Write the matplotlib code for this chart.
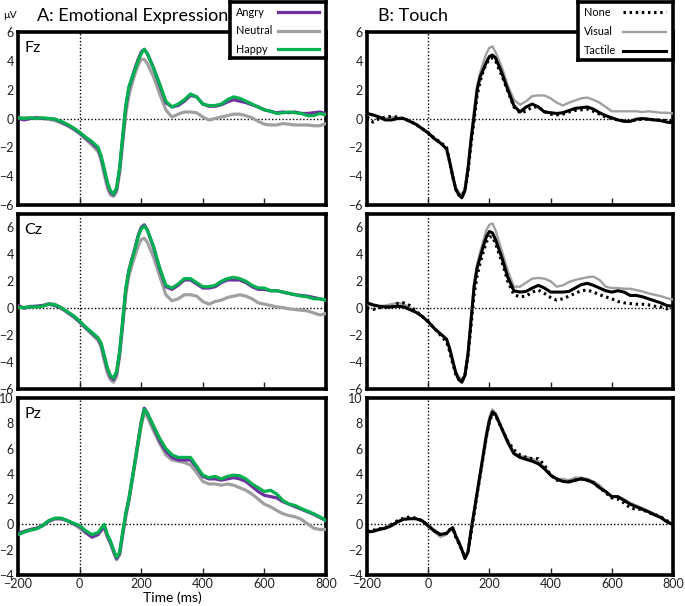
import matplotlib
matplotlib.use('Agg')
import matplotlib.pyplot as plt

plt.rcParams['font.family'] = ['Lato', 'DejaVu Sans']

# time axis (ms): 20 ms steps, 10 ms steps around the N1/P2 complex
time_ms = list(range(-200, 61, 20)) + list(range(70, 221, 10)) + list(range(240, 801, 20))

#### A: Emotional Expression
fz_angry = ([0.0, -0.1, 0.0, 0.05, 0.0, 0.0, -0.05, -0.25, -0.45, -0.7, -1.0, -1.35, -1.7, -2.1]
            + [-2.7, -3.6, -4.5, -5.1, -5.3, -4.9, -3.5, -1.3, 0.8, 2.1, 2.8, 3.5, 4.1, 4.6, 4.8, 4.5]
            + [3.5, 2.3, 1.1, 0.8, 0.9, 1.2, 1.6, 1.5, 1.0, 0.85, 0.85, 0.95, 1.15, 1.3, 1.2, 1.1, 0.95, 0.8,
               0.6, 0.5, 0.4, 0.45, 0.4, 0.45, 0.35, 0.35, 0.4, 0.45, 0.35])
fz_neutral = ([0.05, 0.05, 0.0, 0.05, 0.0, -0.05, -0.15, -0.3, -0.5, -0.75, -1.05, -1.45, -1.85, -2.3]
              + [-2.9, -3.9, -4.8, -5.3, -5.4, -5.1, -3.8, -1.7, 0.3, 1.6, 2.4, 3.1, 3.7, 4.1, 4.1, 3.8]
              + [2.9, 1.7, 0.6, 0.1, 0.3, 0.45, 0.45, 0.4, 0.1, -0.1, 0.0, 0.1, 0.2, 0.3, 0.3, 0.2, 0.05, -0.2,
                 -0.4, -0.45, -0.45, -0.35, -0.4, -0.45, -0.45, -0.45, -0.5, -0.5, -0.35])
fz_happy = ([0.05, 0.0, 0.05, 0.0, 0.05, 0.0, -0.05, -0.2, -0.4, -0.65, -0.95, -1.3, -1.6, -2.0]
            + [-2.6, -3.5, -4.4, -5.0, -5.25, -4.8, -3.4, -1.2, 0.9, 2.2, 2.8, 3.4, 4.0, 4.5, 4.8, 4.5]
            + [3.5, 2.4, 1.2, 0.8, 1.0, 1.3, 1.7, 1.5, 1.0, 0.9, 0.9, 1.0, 1.3, 1.5, 1.4, 1.2, 1.0, 0.8,
               0.6, 0.5, 0.35, 0.4, 0.45, 0.4, 0.35, 0.2, 0.2, 0.35, 0.25])

cz_angry = ([0.2, 0.0, 0.1, 0.15, 0.2, 0.3, 0.2, 0.0, -0.3, -0.6, -1.0, -1.45, -1.85, -2.25]
            + [-2.7, -3.6, -4.5, -5.1, -5.3, -4.8, -3.3, -1.0, 1.4, 2.8, 3.7, 4.5, 5.4, 6.0, 6.2, 5.8]
            + [4.5, 2.9, 1.6, 1.4, 1.7, 2.1, 2.1, 1.8, 1.5, 1.5, 1.6, 1.9, 2.1, 2.1, 2.1, 1.9, 1.6, 1.4,
               1.4, 1.3, 1.3, 1.2, 1.1, 1.0, 0.95, 0.9, 0.8, 0.7, 0.6])
cz_neutral = ([0.05, 0.05, 0.15, 0.15, 0.2, 0.35, 0.3, 0.05, -0.3, -0.65, -1.05, -1.5, -1.95, -2.4]
              + [-2.9, -3.9, -4.8, -5.3, -5.5, -5.1, -3.6, -1.3, 1.0, 2.4, 3.2, 3.9, 4.6, 5.1, 5.2, 4.9]
              + [3.8, 2.4, 1.0, 0.55, 0.7, 1.0, 1.0, 0.9, 0.5, 0.3, 0.5, 0.6, 0.8, 0.9, 1.0, 0.9, 0.7, 0.4,
                 0.3, 0.2, 0.1, 0.05, -0.05, -0.1, -0.15, -0.2, -0.35, -0.5, -0.4])
cz_happy = ([0.05, 0.05, 0.1, 0.1, 0.15, 0.3, 0.25, 0.05, -0.25, -0.55, -0.95, -1.4, -1.8, -2.2]
            + [-2.6, -3.5, -4.4, -5.0, -5.2, -4.7, -3.2, -0.9, 1.5, 2.8, 3.6, 4.4, 5.3, 5.9, 6.1, 5.8]
            + [4.6, 3.0, 1.7, 1.5, 1.8, 2.2, 2.2, 1.9, 1.6, 1.6, 1.7, 2.0, 2.2, 2.3, 2.2, 2.0, 1.7, 1.5,
               1.5, 1.3, 1.3, 1.2, 1.1, 1.0, 0.9, 0.85, 0.7, 0.7, 0.6])

pz_angry = ([-0.7, -0.55, -0.4, -0.3, -0.1, 0.25, 0.45, 0.45, 0.3, 0.05, -0.15, -0.6, -1.0, -0.8]
            + [-0.45, -0.15, -0.9, -1.4, -2.1, -2.7, -2.3, -0.7, 0.8, 2.0, 3.5, 5.0, 6.6, 8.1, 9.2, 8.8]
            + [7.7, 6.6, 5.8, 5.3, 5.1, 5.1, 5.1, 4.5, 3.8, 3.6, 3.6, 3.5, 3.6, 3.7, 3.6, 3.4, 3.0, 2.6,
               2.3, 2.2, 2.1, 1.8, 1.6, 1.4, 1.2, 1.0, 0.8, 0.55, 0.3])
pz_neutral = ([-0.8, -0.6, -0.45, -0.3, -0.05, 0.3, 0.45, 0.45, 0.3, 0.05, -0.3, -0.7, -1.0, -0.8]
              + [-0.5, -0.3, -1.0, -1.5, -2.2, -2.8, -2.4, -0.9, 0.6, 1.8, 3.3, 4.8, 6.3, 7.8, 8.8, 8.5]
              + [7.4, 6.4, 5.5, 5.1, 5.0, 4.9, 4.7, 4.1, 3.4, 3.2, 3.2, 3.1, 3.2, 3.1, 2.9, 2.7, 2.4, 2.0,
                 1.6, 1.4, 1.1, 0.85, 0.7, 0.6, 0.4, 0.05, -0.3, -0.4, -0.4])
pz_happy = ([-0.8, -0.6, -0.45, -0.35, -0.1, 0.3, 0.5, 0.5, 0.3, 0.1, -0.1, -0.5, -0.8, -0.65]
            + [-0.3, 0.0, -0.8, -1.3, -2.0, -2.6, -2.2, -0.6, 0.9, 2.0, 3.5, 5.0, 6.5, 8.0, 9.1, 8.8]
            + [7.8, 6.8, 6.0, 5.5, 5.3, 5.3, 5.3, 4.6, 3.9, 3.7, 3.8, 3.6, 3.8, 3.9, 3.85, 3.6, 3.2, 2.9,
               2.6, 2.7, 2.4, 1.9, 1.6, 1.5, 1.25, 1.05, 0.85, 0.6, 0.3])

#### B: Touch
fz_none = ([0.1, -0.25, 0.0, 0.1, 0.15, 0.1, 0.0, -0.2, -0.4, -0.7, -1.0, -1.35, -1.65, -2.0]
           + [-3.0, -4.0, -4.9, -5.3, -5.4, -5.0, -3.7, -1.8, -0.1, 1.6, 2.6, 3.3, 3.8, 4.1, 4.2, 4.0]
           + [3.0, 1.9, 0.8, 0.4, 0.5, 0.8, 0.8, 0.5, 0.3, 0.25, 0.3, 0.45, 0.55, 0.6, 0.65, 0.5, 0.3, 0.1,
              0.0, -0.1, -0.15, -0.2, -0.1, -0.05, -0.05, -0.1, -0.1, -0.15, -0.2])
fz_visual = ([0.3, 0.2, 0.1, 0.0, 0.1, 0.05, 0.0, -0.2, -0.4, -0.7, -1.0, -1.4, -1.7, -2.1]
             + [-2.9, -3.9, -4.8, -5.1, -5.3, -4.8, -3.3, -1.2, 0.6, 2.3, 3.2, 3.9, 4.5, 4.9, 5.0, 4.6]
             + [3.6, 2.3, 1.3, 0.95, 1.2, 1.55, 1.6, 1.6, 1.4, 1.1, 0.9, 1.1, 1.25, 1.4, 1.45, 1.3, 1.1, 0.8,
                0.5, 0.5, 0.5, 0.5, 0.5, 0.45, 0.5, 0.45, 0.4, 0.4, 0.35])
fz_tactile = ([0.35, 0.25, 0.1, -0.1, -0.1, 0.0, 0.0, -0.2, -0.4, -0.7, -1.0, -1.4, -1.7, -2.1]
              + [-3.0, -4.0, -4.9, -5.3, -5.5, -5.0, -3.5, -1.5, 0.2, 2.0, 2.9, 3.4, 3.9, 4.3, 4.4, 4.2]
              + [3.2, 2.0, 0.9, 0.45, 0.8, 1.0, 0.8, 0.45, 0.4, 0.35, 0.4, 0.55, 0.7, 0.75, 0.8, 0.65, 0.4, 0.2,
                 0.05, -0.1, -0.2, -0.2, -0.05, 0.0, -0.05, -0.1, -0.15, -0.25, -0.3])

cz_none = ([0.0, -0.1, 0.05, 0.05, 0.1, 0.35, 0.4, 0.2, -0.2, -0.6, -1.0, -1.5, -2.0, -2.5]
           + [-3.2, -4.1, -4.9, -5.3, -5.4, -5.0, -3.6, -1.3, 1.0, 2.4, 3.4, 4.2, 4.9, 5.3, 5.3, 4.8]
           + [3.5, 2.0, 1.0, 0.85, 0.9, 1.2, 1.35, 1.1, 0.8, 0.6, 0.7, 0.9, 1.1, 1.3, 1.35, 1.2, 1.0, 0.85,
              0.7, 0.5, 0.4, 0.35, 0.3, 0.3, 0.25, 0.15, 0.1, -0.05, 0.2])
cz_visual = ([0.3, 0.2, 0.15, 0.2, 0.3, 0.4, 0.3, 0.05, -0.3, -0.6, -1.0, -1.5, -1.9, -2.3]
             + [-2.9, -3.8, -4.7, -5.1, -5.3, -4.9, -3.3, -0.7, 1.9, 3.3, 4.2, 5.0, 5.8, 6.2, 6.3, 5.8]
             + [4.3, 2.8, 1.6, 1.6, 1.9, 2.2, 2.25, 2.2, 2.0, 1.6, 1.7, 1.95, 2.1, 2.2, 2.3, 2.35, 2.1, 1.6,
                1.5, 1.5, 1.45, 1.45, 1.35, 1.25, 1.1, 1.0, 0.9, 0.75, 0.65])
cz_tactile = ([0.4, 0.25, 0.15, 0.1, 0.1, 0.15, 0.1, -0.1, -0.3, -0.6, -1.0, -1.5, -1.9, -2.3]
              + [-3.0, -3.9, -4.8, -5.3, -5.5, -5.0, -3.4, -0.9, 1.6, 3.0, 3.8, 4.6, 5.3, 5.7, 5.6, 5.1]
              + [3.8, 2.3, 1.3, 1.2, 1.25, 1.5, 1.7, 1.5, 1.2, 1.2, 1.2, 1.25, 1.5, 1.75, 1.85, 1.7, 1.5, 1.3,
                 1.2, 1.3, 1.2, 0.95, 0.95, 0.85, 0.7, 0.55, 0.4, 0.2, 0.15])

pz_none = ([-0.5, -0.45, -0.35, -0.25, 0.0, 0.3, 0.5, 0.6, 0.5, 0.3, -0.1, -0.5, -0.8, -0.7]
           + [-0.4, -0.3, -1.0, -1.5, -2.0, -2.6, -2.2, -0.7, 0.8, 2.4, 3.9, 5.4, 6.9, 8.1, 8.8, 8.6]
           + [7.6, 6.6, 5.9, 5.5, 5.3, 5.2, 5.2, 4.7, 3.9, 3.5, 3.4, 3.4, 3.5, 3.6, 3.5, 3.3, 2.9, 2.5,
              2.1, 2.0, 1.7, 1.3, 1.2, 1.2, 0.9, 0.8, 0.6, 0.3, 0.0])
pz_visual = ([-0.6, -0.5, -0.35, -0.25, -0.05, 0.25, 0.45, 0.5, 0.45, 0.25, -0.2, -0.6, -1.0, -0.8]
             + [-0.5, -0.35, -1.0, -1.5, -2.1, -2.6, -2.1, -0.4, 1.1, 2.7, 4.2, 5.7, 7.3, 8.5, 9.1, 8.8]
             + [7.7, 6.6, 5.7, 5.4, 5.35, 5.2, 5.0, 4.5, 3.9, 3.6, 3.6, 3.5, 3.7, 3.7, 3.6, 3.4, 3.1, 2.6,
                2.2, 2.2, 2.0, 1.7, 1.5, 1.3, 1.05, 0.85, 0.55, 0.25, 0.05])
pz_tactile = ([-0.6, -0.55, -0.4, -0.3, -0.1, 0.2, 0.4, 0.45, 0.45, 0.3, -0.1, -0.5, -0.8, -0.7]
              + [-0.45, -0.25, -0.9, -1.4, -2.0, -2.7, -2.2, -0.5, 1.0, 2.5, 4.0, 5.5, 7.0, 8.2, 8.9, 8.7]
              + [7.6, 6.5, 5.6, 5.3, 5.15, 5.0, 4.8, 4.4, 3.9, 3.6, 3.4, 3.35, 3.5, 3.6, 3.5, 3.3, 2.9, 2.6,
                 2.2, 2.2, 1.9, 1.6, 1.4, 1.2, 1.0, 0.75, 0.55, 0.2, 0.0])

electrodes = ['Fz', 'Cz', 'Pz']
ylims = [(-6, 6), (-6, 7), (-4, 10)]
yticks = [range(-6, 7, 2), range(-6, 7, 2), range(-4, 11, 2)]
emotion_labels = ['Angry', 'Neutral', 'Happy']
touch_labels = ['None', 'Visual', 'Tactile']
emotion_data = [(fz_angry, fz_neutral, fz_happy), (cz_angry, cz_neutral, cz_happy), (pz_angry, pz_neutral, pz_happy)]
touch_data = [(fz_none, fz_visual, fz_tactile), (cz_none, cz_visual, cz_tactile), (pz_none, pz_visual, pz_tactile)]

PURPLE, GREY, GREEN = '#7030a0', '#a0a0a0', '#00b050'
DOT = (0, (0.8, 1.2))
emotion_styles = [dict(color=PURPLE, lw=2.3), dict(color=GREY, lw=2.3), dict(color=GREEN, lw=2.3)]
touch_styles = [dict(color='black', lw=2.2, ls=DOT), dict(color=GREY, lw=1.7), dict(color='black', lw=2.2)]

W, H = 685, 606
fig = plt.figure(figsize=(W / 100, H / 100), dpi=100)
rows_px = [(32, 205), (214, 389), (398, 575)]


def style_axes(ax, row):
    ax.set_xlim(-200, 800)
    ax.set_ylim(*ylims[row])
    ax.set_yticks(list(yticks[row]))
    ax.set_xticks([-200, 0, 200, 400, 600, 800])
    ax.axhline(0, color='black', lw=1, ls=(0, (1, 1.5)), zorder=1)
    ax.axvline(0, color='black', lw=1, ls=(0, (1, 1.5)), zorder=1)
    for s in ax.spines.values():
        s.set_linewidth(2.6)
    ax.tick_params(axis='y', length=0, pad=3, labelsize=9, colors='#222222')
    ax.tick_params(axis='x', direction='in', length=5, width=1, labelsize=9, colors='#222222',
                   pad=2)
    if row < 2:
        ax.tick_params(axis='x', labelbottom=False)


def draw_legend(x0, x1, y0, y1, labels, styles, handle_x):
    # boxed legend: labels on the left, line samples on the right
    lax = fig.add_axes([x0 / W, 1 - y1 / H, (x1 - x0) / W, (y1 - y0) / H], zorder=10)
    lax.set_xlim(0, 1)
    lax.set_ylim(0, 1)
    lax.set_xticks([])
    lax.set_yticks([])
    for s in lax.spines.values():
        s.set_linewidth(2.6)
    for i, (lab, st) in enumerate(zip(labels, styles)):
        y = 0.82 - i * 0.33
        lax.text(0.06, y, lab, fontsize=7.8, va='center', ha='left')
        lax.plot(handle_x, [y, y], **st)


axes_left, axes_right = [], []
for row, (top, bot) in enumerate(rows_px):
    axl = fig.add_axes([18 / W, 1 - bot / H, 308 / W, (bot - top) / H])
    axr = fig.add_axes([367 / W, 1 - bot / H, 306 / W, (bot - top) / H])
    style_axes(axl, row)
    style_axes(axr, row)

    angry, neutral, happy = emotion_data[row]
    axl.plot(time_ms, neutral, zorder=3, **emotion_styles[1])
    axl.plot(time_ms, angry, zorder=4, **emotion_styles[0])
    axl.plot(time_ms, happy, zorder=5, **emotion_styles[2])
    axl.text(0.02, 0.95, electrodes[row], transform=axl.transAxes, fontsize=11.5, va='top', ha='left')

    none, visual, tactile = touch_data[row]
    axr.plot(time_ms, visual, zorder=3, **touch_styles[1])
    axr.plot(time_ms, tactile, zorder=4, **touch_styles[2])
    axr.plot(time_ms, none, zorder=5, **touch_styles[0])
    axes_left.append(axl)
    axes_right.append(axr)

axes_left[2].set_xlabel('Time (ms)', fontsize=10, labelpad=1)

fig.text(37 / W, 1 - 16 / H, 'A: Emotional Expression', fontsize=13, va='center', ha='left')
fig.text(378 / W, 1 - 16 / H, 'B: Touch', fontsize=13, va='center', ha='left')
fig.text(3 / W, 1 - 15 / H, 'µV', fontsize=7.5, va='center', ha='left')

draw_legend(230, 326, 2, 58, emotion_labels, emotion_styles, [0.5, 0.93])
draw_legend(578, 673, 2, 60, touch_labels, touch_styles, [0.47, 0.93])

fig.savefig('out.png', dpi=100)
